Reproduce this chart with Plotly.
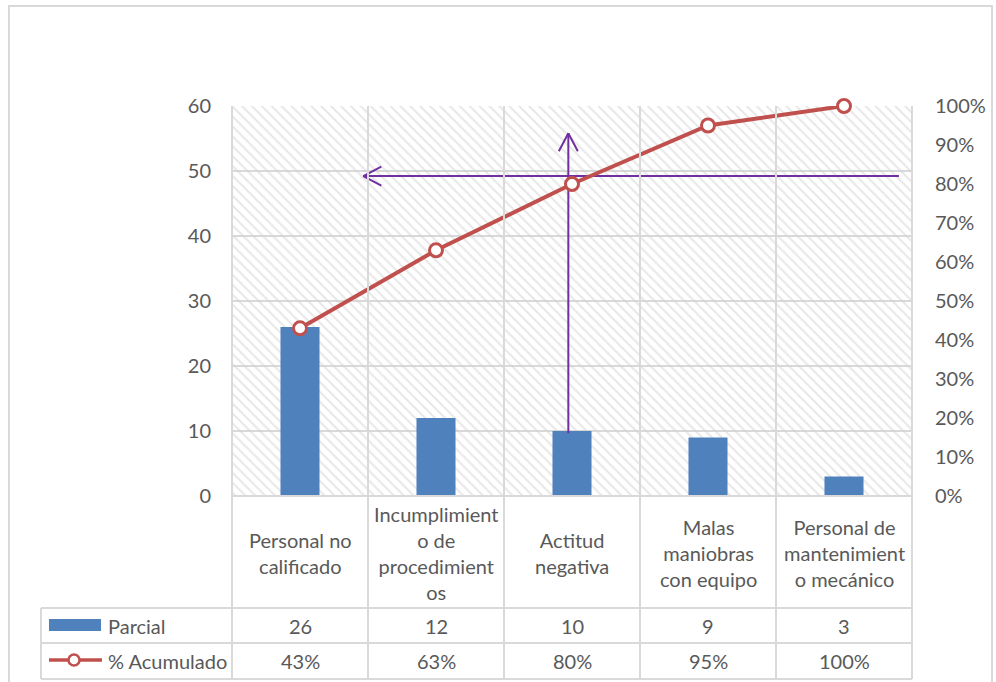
import plotly.graph_objects as go

# ---- data -------------------------------------------------------------
categories = [
    "Personal no calificado",
    "Incumplimiento de procedimientos",
    "Actitud negativa",
    "Malas maniobras con equipo",
    "Personal de mantenimiento mecánico",
]
category_labels = [
    "Personal no<br>calificado",
    "Incumplimient<br>o de<br>procedimient<br>os",
    "Actitud<br>negativa",
    "Malas<br>maniobras<br>con equipo",
    "Personal de<br>mantenimient<br>o mecánico",
]
parcial = [26, 12, 10, 9, 3]
acumulado = [0.43, 0.63, 0.80, 0.95, 1.00]
acumulado_text = ["43%", "63%", "80%", "95%", "100%"]

# ---- layout geometry (pixels) ----------------------------------------
W, H = 996, 682
L, R, T, B = 232, 912, 106, 496          # plot area box
Y_MAX = 60
N = len(categories)
X_RANGE = [-0.5, N - 0.5]

def px(x):
    return (x - L) / (R - L)

def py(y):
    return (B - y) / (B - T)

GRID = "#d9d9d9"
TXT = "#595959"
BLUE = "#4f81bd"
RED = "#c0504d"
PURPLE = "#7030a0"
FONT = "Lato"
FS = 20

fig = go.Figure()

# hatched plot-area background
fig.add_trace(go.Bar(
    x=categories, y=[Y_MAX] * N, width=1,
    marker=dict(color="rgba(0,0,0,0)", line=dict(width=0),
                pattern=dict(shape="\\", fgcolor="#d0d0d0", bgcolor="rgba(0,0,0,0)",
                             size=7, solidity=0.28)),
    hoverinfo="skip", showlegend=False,
))

fig.add_trace(go.Bar(
    x=categories, y=parcial, width=0.287, name="Parcial",
    marker=dict(color=BLUE, line=dict(width=0)), showlegend=False,
))

# pareto reading guides (arrows), on a linear overlay of the category axis
col_w = (R - L) / N
ux = 1 / col_w                 # category units per pixel
uy = Y_MAX / (B - T)           # value units per pixel
h_y, h_x0, h_x1 = 49.23, 4.404, 0.4655
v_x, v_y0, v_y1 = 1.973, 9.65, 55.8
gx, gy = [], []
for (x0, y0, x1, y1) in [
    (h_x0, h_y, h_x1, h_y),
    (h_x1, h_y, h_x1 + 18 * ux, h_y + 9.5 * uy),
    (h_x1, h_y, h_x1 + 18 * ux, h_y - 9.5 * uy),
    (v_x, v_y0, v_x, v_y1),
    (v_x, v_y1, v_x - 9.5 * ux, v_y1 - 18 * uy),
    (v_x, v_y1, v_x + 9.5 * ux, v_y1 - 18 * uy),
]:
    gx += [x0, x1, None]
    gy += [y0, y1, None]
fig.add_trace(go.Scatter(
    x=gx, y=gy, xaxis="x2", yaxis="y", mode="lines",
    line=dict(color=PURPLE, width=2),
    hoverinfo="skip", showlegend=False, cliponaxis=False,
))

fig.add_trace(go.Scatter(
    x=categories, y=acumulado, xaxis="x3", yaxis="y2", name="% Acumulado",
    mode="lines+markers", cliponaxis=False,
    line=dict(color=RED, width=4),
    marker=dict(symbol="circle", size=13, color="white", line=dict(color=RED, width=3)),
    showlegend=False,
))

shapes = []
annotations = []

def hline(x0, x1, y, w=2):
    shapes.append(dict(type="line", xref="paper", yref="paper",
                       x0=px(x0), x1=px(x1), y0=py(y), y1=py(y),
                       line=dict(color=GRID, width=w), layer="above"))

def vline(x, y0, y1, w=2):
    shapes.append(dict(type="line", xref="paper", yref="paper",
                       x0=px(x), x1=px(x), y0=py(y0), y1=py(y1),
                       line=dict(color=GRID, width=w), layer="above"))

# outer chart frame
shapes.append(dict(type="rect", xref="paper", yref="paper",
                   x0=px(9), x1=px(992), y0=py(6), y1=py(700),
                   line=dict(color=GRID, width=2), fillcolor="rgba(0,0,0,0)", layer="below"))

# data table grid
ROW1, ROW2, ROW3 = 608, 643, 679
for i in range(1, N):
    vline(L + i * col_w, T, ROW3)
vline(L, T, ROW3)
vline(R, T, ROW3)
vline(41, ROW1, ROW3)
hline(L, R, B)
for yy in (ROW1, ROW2, ROW3):
    hline(41, R, yy)

# legend keys in the table
shapes.append(dict(type="rect", xref="paper", yref="paper",
                   x0=px(49), x1=px(101), y0=py(619), y1=py(631),
                   fillcolor=BLUE, line=dict(width=0), layer="above"))
shapes.append(dict(type="line", xref="paper", yref="paper",
                   x0=px(49), x1=px(102), y0=py(660), y1=py(660),
                   line=dict(color=RED, width=3.5), layer="above"))
shapes.append(dict(type="circle", xref="paper", yref="paper",
                   x0=px(68.5), x1=px(79.5), y0=py(654.5), y1=py(665.5),
                   fillcolor="white", line=dict(color=RED, width=2.5), layer="above"))

font = dict(family=FONT, size=FS, color=TXT)

# category labels
for c, lab in zip(categories, category_labels):
    annotations.append(dict(x=c, xref="x", y=py(553), yref="paper", text=lab,
                            showarrow=False, font=font, align="center",
                            xanchor="center", yanchor="middle"))
# table rows
for c, v, t in zip(categories, parcial, acumulado_text):
    annotations.append(dict(x=c, xref="x", y=py((ROW1 + ROW2) / 2), yref="paper",
                            text=str(v), showarrow=False, font=font,
                            xanchor="center", yanchor="middle"))
    annotations.append(dict(x=c, xref="x", y=py((ROW2 + ROW3) / 2), yref="paper",
                            text=t, showarrow=False, font=font,
                            xanchor="center", yanchor="middle"))
annotations.append(dict(x=px(106), xref="paper", y=py((ROW1 + ROW2) / 2), yref="paper",
                        text="Parcial", showarrow=False, font=font,
                        xanchor="left", yanchor="middle"))
annotations.append(dict(x=px(106), xref="paper", y=py((ROW2 + ROW3) / 2), yref="paper",
                        text="% Acumulado", showarrow=False, font=font,
                        xanchor="left", yanchor="middle"))

hidden_x = dict(showticklabels=False, showgrid=False, zeroline=False, showline=False,
                ticks="", range=X_RANGE, automargin=False)

fig.update_layout(
    width=W, height=H,
    margin=dict(l=L, r=W - R, t=T, b=H - B, pad=0),
    paper_bgcolor="white", plot_bgcolor="white",
    barmode="overlay", showlegend=False,
    font=font,
    xaxis=dict(type="category", categoryorder="array", categoryarray=categories, **hidden_x),
    xaxis2=dict(type="linear", overlaying="x", **hidden_x),
    xaxis3=dict(type="category", categoryorder="array", categoryarray=categories,
                overlaying="x", **hidden_x),
    yaxis=dict(range=[0, Y_MAX], dtick=10, showgrid=True, gridcolor=GRID, gridwidth=2,
               zeroline=False, showline=False, ticks="", ticklabelstandoff=20,
               tickfont=font, automargin=False),
    yaxis2=dict(range=[0, 1], dtick=0.1, tickformat=".0%", overlaying="y", side="right",
                showgrid=False, zeroline=False, showline=False, ticks="",
                ticklabelstandoff=22, tickfont=font, automargin=False),
    shapes=shapes, annotations=annotations,
)

fig.write_html("out.html")
